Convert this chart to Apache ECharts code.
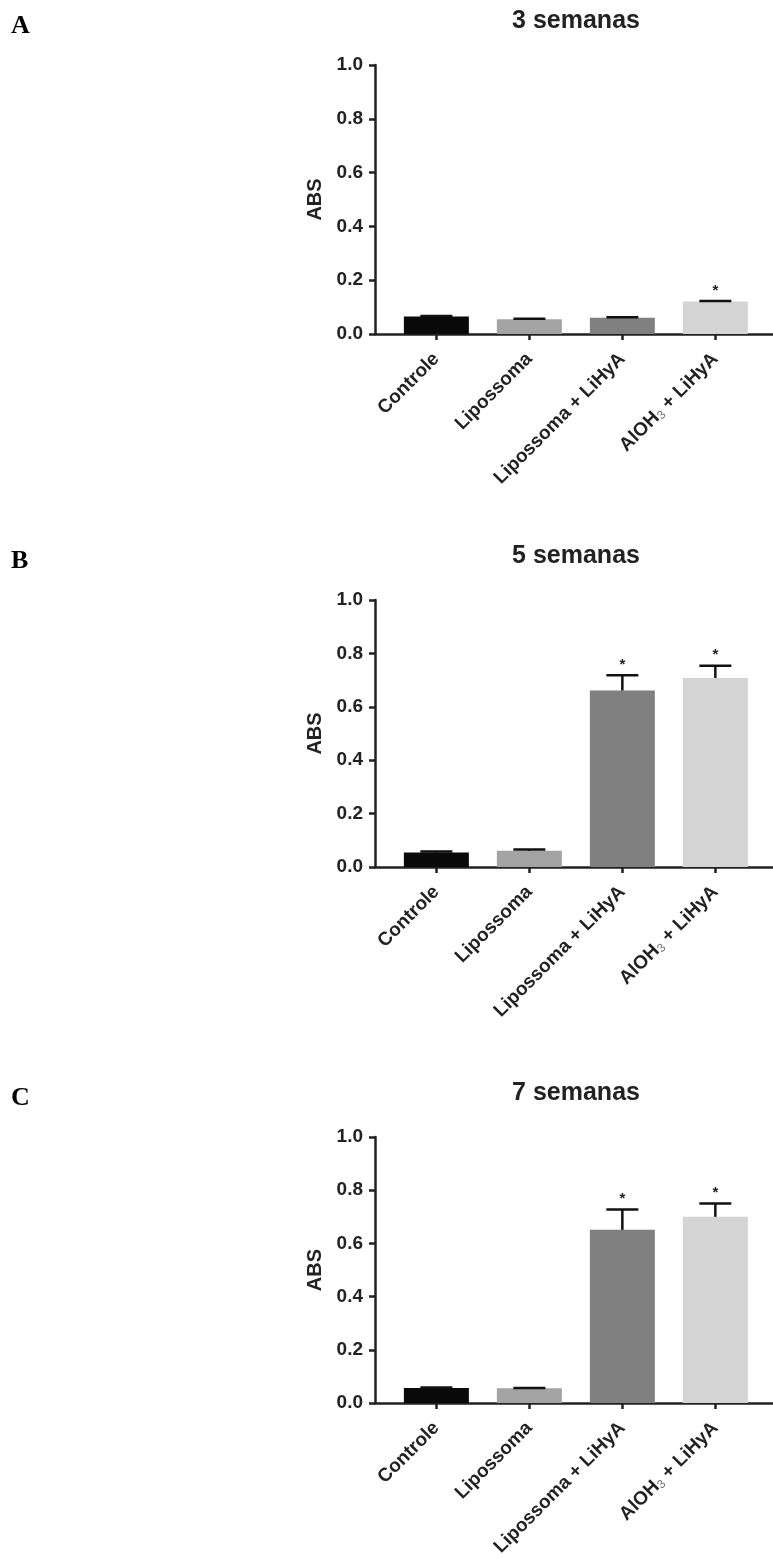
<!DOCTYPE html>
<html>
<head>
<meta charset="utf-8">
<script src="https://cdn.jsdelivr.net/npm/echarts@6/dist/echarts.min.js"></script>
<style>
html,body{margin:0;padding:0;background:#fff;}
#chart{width:773px;height:1559px;}
</style>
</head>
<body>
<div id="chart"></div>
<script>
// ---- data ----
const categories = ['Controle', 'Lipossoma', 'Lipossoma + LiHyA', 'AlOH3 + LiHyA'];
const barColors = ['#0a0a0a', '#a3a3a3', '#808080', '#d4d4d4'];
const panelTitles = ['3 semanas', '5 semanas', '7 semanas'];
const panelLetters = ['A', 'B', 'C'];

const meansA = [0.065, 0.055, 0.060, 0.121];
const errA   = [0.002, 0.002, 0.002, 0.002];
const sigA   = [false, false, false, true];

const meansB = [0.054, 0.061, 0.661, 0.708];
const errB   = [0.004, 0.005, 0.057, 0.046];
const sigB   = [false, false, true, true];

const meansC = [0.057, 0.056, 0.651, 0.700];
const errC   = [0.002, 0.001, 0.077, 0.050];
const sigC   = [false, false, true, true];

const panels = [
  {means: meansA, err: errA, sig: sigA},
  {means: meansB, err: errB, sig: sigB},
  {means: meansC, err: errC, sig: sigC}
];

// ---- layout ----
const gridTops = [65, 600, 1137];
const gridHeights = [269, 267, 269];
const FONT = '"Liberation Sans", Arial, Helvetica, sans-serif';
const AXIS = '#222';

const chart = echarts.init(document.getElementById('chart'), null, {renderer: 'canvas'});

const grids = [], xAxes = [], yAxes = [], series = [], titles = [];

panels.forEach((p, i) => {
  grids.push({left: 375, right: 0, top: gridTops[i], height: gridHeights[i], containLabel: false});
  titles.push({
    text: panelTitles[i], left: 576, top: gridTops[i] - 56, textAlign: 'center', padding: 0,
    textStyle: {fontFamily: FONT, fontWeight: 'bold', fontSize: 25, color: '#222'}
  });
  titles.push({
    text: panelLetters[i], left: 11, top: gridTops[i] - 52, padding: 0,
    textStyle: {fontFamily: '"Liberation Serif", "Times New Roman", serif', fontWeight: 'bold', fontSize: 26, color: '#000'}
  });
  xAxes.push({
    gridIndex: i, type: 'value', min: -0.66, max: 3.62,
    splitLine: {show: false},
    axisLine: {show: true, onZero: false, lineStyle: {color: AXIS, width: 2.5}},
    axisTick: {show: true, customValues: [0, 1, 2, 3], length: 6, lineStyle: {color: AXIS, width: 2.5}},
    axisLabel: {
      show: true, customValues: [0, 1, 2, 3], rotate: 45, margin: 22,
      fontFamily: FONT, fontWeight: 'bold', fontSize: 19, color: '#222',
      formatter: function (v) {
        const name = categories[Math.round(v)] || '';
        if (name.indexOf('AlOH3') === 0) {
          return '{n|AlOH}{s|3}{n|' + name.slice(5) + '}';
        }
        return '{n|' + name + '}';
      },
      rich: {
        n: {fontFamily: FONT, fontWeight: 'bold', fontSize: 19, color: '#222'},
        s: {fontFamily: FONT, fontWeight: 'normal', fontSize: 12, color: '#777', verticalAlign: 'bottom', padding: [8, 0, 0, 0]}
      }
    }
  });
  yAxes.push({
    gridIndex: i, type: 'value', min: 0, max: 1, interval: 0.2,
    name: 'ABS', nameLocation: 'middle', nameRotate: 90, nameGap: 45,
    nameTextStyle: {fontFamily: FONT, fontWeight: 'bold', fontSize: 20, color: '#222'},
    splitLine: {show: false},
    axisLine: {show: true, onZero: false, lineStyle: {color: AXIS, width: 2.5}},
    axisTick: {show: true, length: 6, lineStyle: {color: AXIS, width: 2.5}},
    axisLabel: {
      margin: 12, fontFamily: FONT, fontWeight: 'bold', fontSize: 19, color: '#222',
      formatter: v => v.toFixed(1)
    }
  });
  series.push({
    type: 'bar', xAxisIndex: i, yAxisIndex: i, barWidth: 65,
    data: p.means.map((m, k) => ({value: [k, m], itemStyle: {color: barColors[k]}})),
    silent: true, animation: false
  });
  series.push({
    type: 'custom', xAxisIndex: i, yAxisIndex: i, silent: true, animation: false, z: 5,
    data: p.means.map((m, k) => [k, m, p.err[k], p.sig[k] ? 1 : 0]),
    renderItem: function (params, api) {
      const x = api.value(0), m = api.value(1), e = api.value(2), s = api.value(3);
      const base = api.coord([x, m]);
      const top = api.coord([x, m + e]);
      const half = 16;
      const style = {stroke: '#111', lineWidth: 2.5};
      const children = [
        {type: 'line', shape: {x1: base[0], y1: base[1], x2: top[0], y2: top[1]}, style: style},
        {type: 'line', shape: {x1: top[0] - half, y1: top[1], x2: top[0] + half, y2: top[1]}, style: style}
      ];
      if (s) {
        children.push({
          type: 'text',
          style: {text: '*', x: top[0], y: top[1] - 3, align: 'center', verticalAlign: 'bottom',
                  fontFamily: FONT, fontWeight: 'bold', fontSize: 15, fill: '#222'}
        });
      }
      return {type: 'group', children: children};
    }
  });
});

chart.setOption({
  backgroundColor: '#fff',
  animation: false,
  title: titles,
  grid: grids,
  xAxis: xAxes,
  yAxis: yAxes,
  series: series
});
</script>
</body>
</html>
